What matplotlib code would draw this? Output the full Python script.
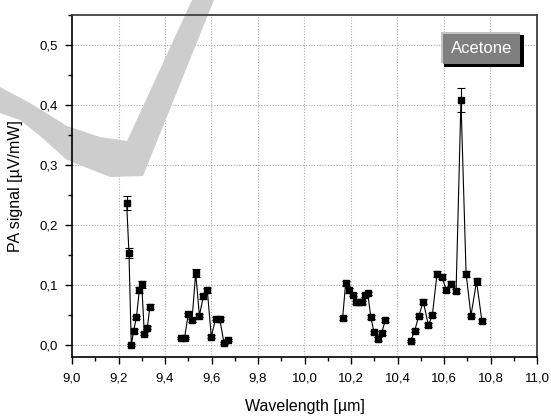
import numpy as np
import matplotlib.pyplot as plt
from matplotlib.ticker import MultipleLocator, FuncFormatter
from matplotlib.patches import Rectangle, Polygon

plt.rcParams['font.family'] = ['Liberation Sans', 'DejaVu Sans']

# --- data: four separate wavelength scans (x in um, PA signal in uV/mW) ---
wl_1 = [9.235, 9.245, 9.255, 9.265, 9.277, 9.290, 9.300, 9.311, 9.324, 9.335]
pa_1 = [0.237, 0.153, 0.000, 0.023, 0.046, 0.092, 0.101, 0.019, 0.029, 0.064]
err_1 = [0.012, 0.008, 0.002, 0.003, 0.003, 0.005, 0.006, 0.003, 0.003, 0.004]

wl_2 = [9.468, 9.484, 9.500, 9.516, 9.532, 9.548, 9.565, 9.582, 9.599,
        9.618, 9.635, 9.654, 9.672]
pa_2 = [0.012, 0.012, 0.051, 0.041, 0.120, 0.049, 0.081, 0.091, 0.014,
        0.044, 0.044, 0.003, 0.008]
err_2 = [0.002, 0.002, 0.003, 0.003, 0.007, 0.003, 0.004, 0.004, 0.003,
         0.003, 0.003, 0.002, 0.002]

wl_3 = [10.164, 10.177, 10.193, 10.207, 10.222, 10.236, 10.246, 10.260,
        10.272, 10.285, 10.299, 10.316, 10.332, 10.348]
pa_3 = [0.045, 0.103, 0.091, 0.084, 0.071, 0.071, 0.071, 0.083,
        0.086, 0.047, 0.021, 0.010, 0.020, 0.042]
err_3 = [0.003, 0.004, 0.004, 0.003, 0.003, 0.003, 0.003, 0.003,
         0.003, 0.003, 0.003, 0.003, 0.003, 0.003]

wl_4 = [10.457, 10.474, 10.492, 10.511, 10.533, 10.550, 10.570, 10.590,
        10.610, 10.630, 10.652, 10.673, 10.695, 10.716, 10.740, 10.763]
pa_4 = [0.007, 0.024, 0.049, 0.072, 0.033, 0.050, 0.119, 0.114,
        0.092, 0.102, 0.090, 0.408, 0.119, 0.049, 0.106, 0.040]
err_4 = [0.002, 0.003, 0.003, 0.004, 0.003, 0.003, 0.005, 0.004,
         0.004, 0.004, 0.004, 0.020, 0.005, 0.003, 0.006, 0.003]

scans = [(wl_1, pa_1, err_1), (wl_2, pa_2, err_2),
         (wl_3, pa_3, err_3), (wl_4, pa_4, err_4)]

fig = plt.figure(figsize=(5.51, 4.16), dpi=100)
ax = fig.add_axes([72 / 551, 1 - 357 / 416, 465 / 551, 342 / 416])

for wl, pa, err in scans:
    ax.errorbar(wl, pa, yerr=err, fmt='-s', color='black', lw=0.8,
                ms=4.3, elinewidth=0.8, capsize=3, capthick=0.8, zorder=4)

ax.set_xlim(9.0, 11.0)
ax.set_ylim(-0.02, 0.55)
ax.xaxis.set_major_locator(MultipleLocator(0.2))
ax.xaxis.set_minor_locator(MultipleLocator(0.1))
ax.yaxis.set_major_locator(MultipleLocator(0.1))
ax.yaxis.set_minor_locator(MultipleLocator(0.05))
comma = FuncFormatter(lambda v, p: f'{v:.1f}'.replace('.', ','))
ax.xaxis.set_major_formatter(comma)
ax.yaxis.set_major_formatter(comma)
ax.tick_params(which='major', direction='out', length=5, width=1.0,
               labelsize=9.5, pad=5)
ax.tick_params(which='minor', direction='out', length=3, width=1.0)
ax.tick_params(axis='x', which='major', pad=6.5)

# dotted grid drawn by hand so the watermark can sit between grid and ticks
grid_kw = dict(color='#aaaaaa', linestyle=(0, (1, 1.5)), lw=0.8, zorder=0.5)
for xv in np.arange(9.2, 10.9, 0.2):
    ax.axvline(xv, **grid_kw)
for yv in np.arange(0.0, 0.51, 0.1):
    ax.axhline(yv, **grid_kw)

for side in ['top', 'right']:
    ax.spines[side].set_color('#404040')
    ax.spines[side].set_linewidth(1.3)
for side in ['left', 'bottom']:
    ax.spines[side].set_linewidth(1.2)

ax.set_xlabel('Wavelength [µm]', fontsize=11.5, labelpad=10)
ax.set_ylabel('PA signal [µV/mW]', fontsize=11.5, labelpad=12)

W, H = 551, 416

# light grey check-mark watermark (above grid, below ticks and spines)
mark = [(0, 87), (30, 103), (67, 126), (100, 137), (127, 141), (192, 0),
        (214, 0), (143, 176), (110, 177), (67, 160), (40, 136), (20, 120),
        (0, 113)]
ax.add_patch(Polygon([(x / W, 1 - y / H) for x, y in mark], closed=True,
                     transform=fig.transFigure, facecolor='#cdcdcd',
                     edgecolor='none', zorder=1, clip_on=False))

# "Acetone" label box with bevel look
def fig_rect(x0, y0, x1, y1, color):
    return Rectangle((x0 / W, 1 - y1 / H), (x1 - x0) / W, (y1 - y0) / H,
                     transform=fig.transFigure, facecolor=color,
                     edgecolor='none', zorder=10)
fig.patches.append(fig_rect(441, 32, 520, 63, '#c4c4c4'))
fig.patches.append(fig_rect(444, 35, 524, 67, '#000000'))
fig.patches.append(fig_rect(443, 34, 520, 64, '#7f7f7f'))
fig.text(481.5 / W, 1 - 48.5 / H, 'Acetone', color='white', fontsize=12,
         ha='center', va='center', zorder=11)

fig.savefig('out.png', dpi=100)
